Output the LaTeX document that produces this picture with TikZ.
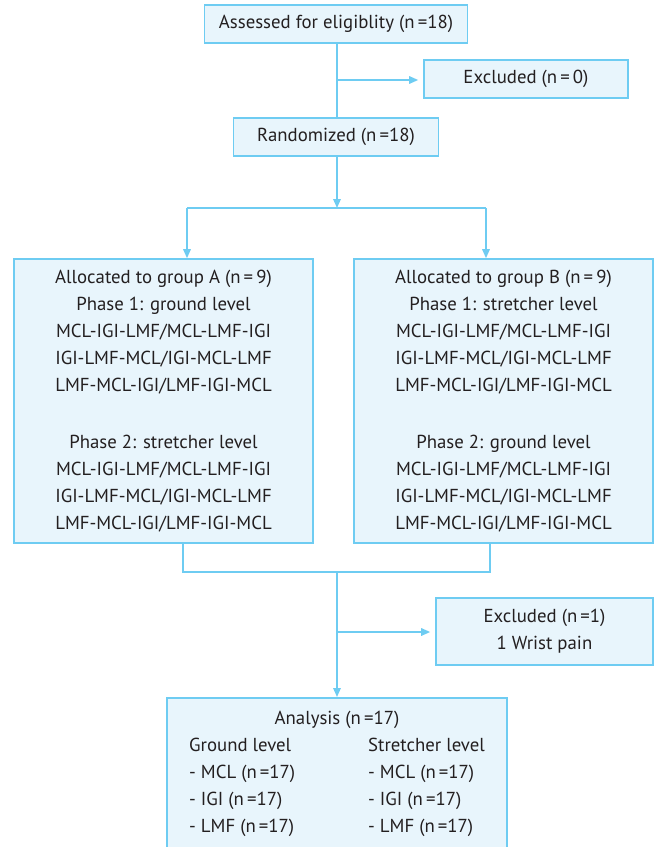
\documentclass[tikz,border=0pt]{standalone}
\usepackage{fontspec}
\setmainfont{PT Sans}
\usetikzlibrary{arrows.meta}
\definecolor{lineblue}{RGB}{110,204,242}
\definecolor{boxfill}{RGB}{232,245,252}
\definecolor{textgray}{RGB}{35,31,32}
\begin{document}
\begin{tikzpicture}[x=1pt,y=-1pt,
  box/.style={draw=lineblue,fill=boxfill,line width=1.6pt,inner sep=0pt,text=textgray,align=center},
  conn/.style={draw=lineblue,line width=1.6pt},
  arr/.style={conn,-{Triangle[length=9pt,width=7.5pt]}},
  font={\fontsize{18.8}{27}\selectfont}]
\useasboundingbox (0,0) rectangle (659,847);
% boxes
\node[box,minimum width=263pt,minimum height=38pt] (assess) at (336,24) {Assessed for eligiblity (n\,=18)};
\node[box,minimum width=204pt,minimum height=38pt] (excl0) at (526,79) {Excluded (n\,=\,0)};
\node[box,minimum width=205pt,minimum height=38pt] (random) at (336,137) {Randomized (n\,=18)};
\node[box,minimum width=299pt,minimum height=284pt] (groupa) at (163.5,401) {Allocated to group A (n\,=\,9)\\
  Phase 1: ground level\\ MCL-IGI-LMF/MCL-LMF-IGI\\ IGI-LMF-MCL/IGI-MCL-LMF\\ LMF-MCL-IGI/LMF-IGI-MCL\\[30pt]
  Phase 2: stretcher level\\ MCL-IGI-LMF/MCL-LMF-IGI\\ IGI-LMF-MCL/IGI-MCL-LMF\\ LMF-MCL-IGI/LMF-IGI-MCL};
\node[box,minimum width=299pt,minimum height=284pt] (groupb) at (503.5,401) {Allocated to group B (n\,=\,9)\\
  Phase 1: stretcher level\\ MCL-IGI-LMF/MCL-LMF-IGI\\ IGI-LMF-MCL/IGI-MCL-LMF\\ LMF-MCL-IGI/LMF-IGI-MCL\\[30pt]
  Phase 2: ground level\\ MCL-IGI-LMF/MCL-LMF-IGI\\ IGI-LMF-MCL/IGI-MCL-LMF\\ LMF-MCL-IGI/LMF-IGI-MCL};
\node[box,minimum width=217pt,minimum height=67pt] (excl1) at (544.5,631.5) {Excluded (n\,=1)\\ 1 Wrist pain};
\node[box,minimum width=340pt,anchor=north,inner ysep=8pt] (analysis) at (337,697) {%
  \begin{tabular}{@{}p{179pt}@{}l@{}}
  \multicolumn{2}{c}{Analysis (n\,=17)}\\
  Ground level & Stretcher level\\
  - MCL (n\,=17) & - MCL (n\,=17)\\
  - IGI (n\,=17) & - IGI (n\,=17)\\
  - LMF (n\,=17) & - LMF (n\,=17)\\[14pt]
  \end{tabular}};
% connectors
\coordinate (exc0pt) at (337,80);
\coordinate (split) at (337,208);
\coordinate (tola) at (187,208);
\coordinate (tolb) at (486,208);
\coordinate (froma) at (183,572);
\coordinate (fromb) at (490,572);
\coordinate (join) at (337,572);
\coordinate (exc1pt) at (337,632);
\draw[conn] (assess.south -| exc0pt) -- (random.north -| exc0pt);
\draw[arr,shorten >=5pt] (exc0pt) -- (excl0.west |- exc0pt);
\draw[arr] (random.south -| split) -- (split);
\draw[conn] (tola) -- (tolb);
\draw[arr] (tola) -- (groupa.north -| tola);
\draw[arr] (tolb) -- (groupb.north -| tolb);
\draw[conn] (groupa.south -| froma) -- (froma) -- (fromb) -- (groupb.south -| fromb);
\draw[arr] (join) -- (analysis.north -| join);
\draw[arr,shorten >=5pt] (exc1pt) -- (excl1.west |- exc1pt);
\end{tikzpicture}
\end{document}
